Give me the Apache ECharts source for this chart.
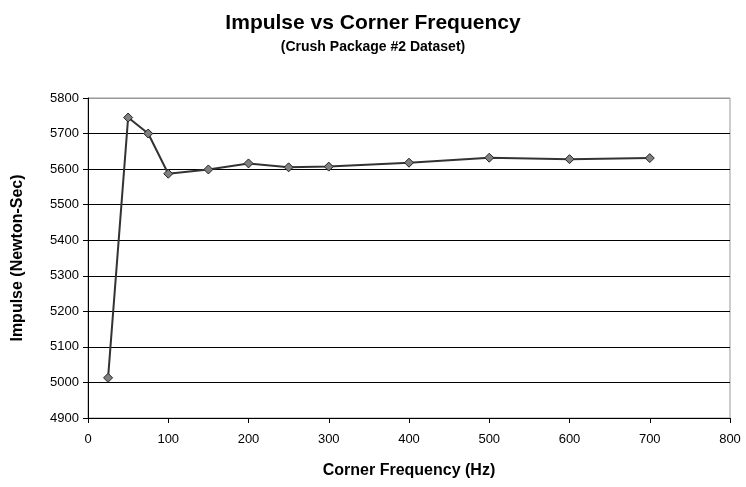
<!DOCTYPE html>
<html>
<head>
<meta charset="utf-8">
<script src="https://cdn.jsdelivr.net/npm/echarts@6/dist/echarts.min.js"></script>
<style>
  html, body { margin: 0; padding: 0; background: #fff; }
  #chart { width: 746px; height: 487px; }
</style>
</head>
<body>
<div id="chart"></div>
<script>
// values
var freqHz = [25, 50, 75, 100, 150, 200, 250, 300, 400, 500, 600, 700];
var impulse = [5013, 5745, 5700, 5587, 5599, 5616, 5605, 5607, 5618, 5632, 5628, 5631];

var points = freqHz.map(function (f, i) { return [f, impulse[i]]; });

var myChart = echarts.init(document.getElementById('chart'));
var font = 'Liberation Sans, Arial, sans-serif';

// gridlines are black, the top edge of the plot is grey
var gridColors = ['#000', '#000', '#000', '#000', '#000', '#000', '#000', '#000', '#000', '#999'];

var option = {
    backgroundColor: '#fff',
    animation: false,
    title: {
        text: 'Impulse vs Corner Frequency',
        subtext: '(Crush Package #2 Dataset)',
        left: 'center',
        top: 8,
        itemGap: 6,
        textStyle: { fontFamily: font, fontSize: 21, fontWeight: 'bold', color: '#000' },
        subtextStyle: { fontFamily: font, fontSize: 14, fontWeight: 'bold', color: '#000' }
    },
    grid: { left: 88, right: 16, top: 98, bottom: 69, show: true, borderColor: '#999', borderWidth: 1 },
    xAxis: {
        type: 'value',
        min: 0, max: 800, interval: 100,
        name: 'Corner Frequency (Hz)',
        nameLocation: 'middle',
        nameGap: 45,
        nameTextStyle: { fontFamily: font, fontSize: 16, fontWeight: 'bold', color: '#000' },
        axisLine: { show: true, lineStyle: { color: '#000', width: 1 } },
        axisTick: { show: true, inside: false, length: 5, lineStyle: { color: '#000' } },
        axisLabel: { fontFamily: font, fontSize: 13, color: '#000', margin: 15 },
        splitLine: { show: false }
    },
    yAxis: {
        type: 'value',
        min: 4900, max: 5800, interval: 100,
        name: 'Impulse (Newton-Sec)',
        nameLocation: 'middle',
        nameGap: 62,
        nameTextStyle: { fontFamily: font, fontSize: 16, fontWeight: 'bold', color: '#000' },
        axisLine: { show: true, lineStyle: { color: '#000', width: 1 } },
        axisTick: { show: true, inside: false, length: 5, lineStyle: { color: '#000' } },
        axisLabel: { fontFamily: font, fontSize: 13, color: '#000', margin: 9,
            formatter: function (v) { return String(v); } },
        splitLine: { show: true, lineStyle: { color: gridColors, width: 1 } }
    },
    series: [{
        type: 'line',
        data: points,
        symbol: 'diamond',
        symbolSize: 9,
        lineStyle: { color: '#333', width: 2 },
        itemStyle: { color: '#808080', borderColor: '#222', borderWidth: 1 }
    }]
};

myChart.setOption(option);
</script>
</body>
</html>
